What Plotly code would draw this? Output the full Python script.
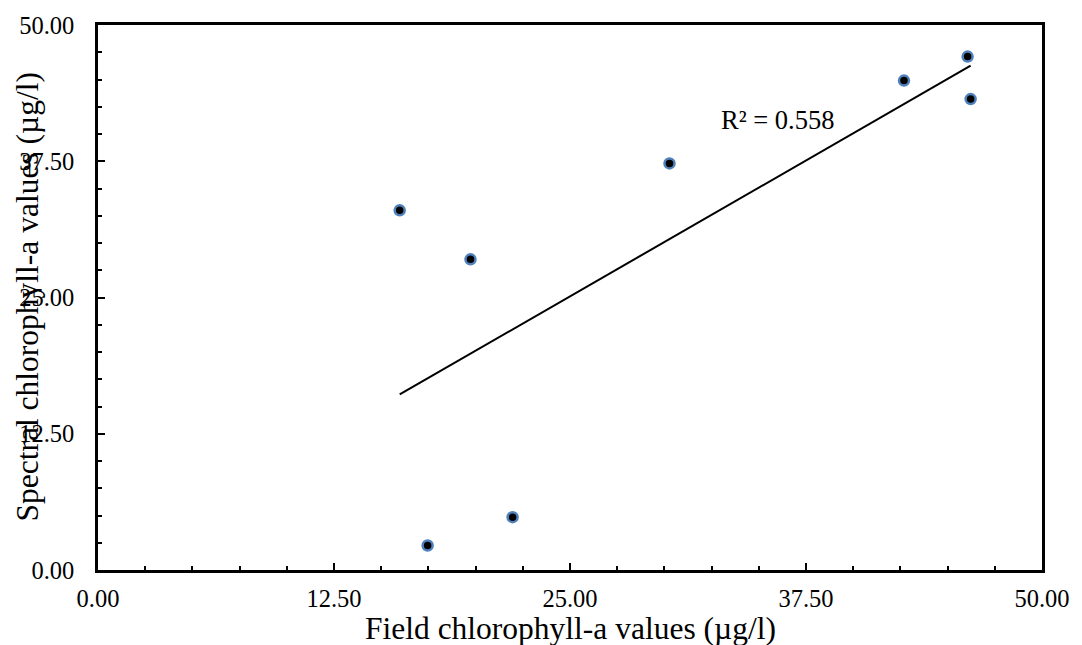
import numpy as np
import plotly.graph_objects as go

field_chl = [15.98, 17.46, 19.73, 21.96, 30.27, 42.69, 46.06, 46.22]
spectral_chl = [33.0, 2.25, 28.5, 4.85, 37.3, 44.9, 47.1, 43.2]
tick_vals = [0, 12.5, 25, 37.5, 50]
tick_text = ["0.00", "12.50", "25.00", "37.50", "50.00"]
r2_label = "R² = 0.558"
x_title = "Field chlorophyll-a values (µg/l)"
y_title = "Spectral chlorophyll-a values (µg/l)"

x = np.array(field_chl)
y = np.array(spectral_chl)
slope, intercept = np.polyfit(x, y, 1)
x_fit = np.array([x.min(), x.max()])
y_fit = slope * x_fit + intercept

FONT = "Liberation Serif, Times New Roman, serif"

fig = go.Figure()
fig.add_trace(go.Scatter(x=x_fit, y=y_fit, mode="lines",
                         line=dict(color="black", width=2), showlegend=False,
                         hoverinfo="skip"))
fig.add_trace(go.Scatter(x=field_chl, y=spectral_chl, mode="markers",
                         marker=dict(color="black", size=10,
                                     line=dict(color="#4f81bd", width=2.5)),
                         showlegend=False))

axis_common = dict(range=[0, 50], tickvals=tick_vals, ticktext=tick_text,
                   showgrid=False, zeroline=False, showline=True,
                   linecolor="black", linewidth=2.5, mirror=True,
                   ticks="inside", ticklen=7, tickwidth=2, tickcolor="black",
                   minor=dict(dtick=2.5, ticks="inside", ticklen=4, tickwidth=2,
                              tickcolor="black", showgrid=False),
                   tickfont=dict(family=FONT, size=24.5, color="black"))

fig.update_xaxes(**axis_common, ticklabelstandoff=5)
fig.update_yaxes(**axis_common, ticklabelstandoff=16)

fig.add_annotation(text=r2_label, x=36.0, y=41.3, xref="x", yref="y",
                   showarrow=False, font=dict(family=FONT, size=26.5, color="black"))
fig.add_annotation(text=x_title, x=0.5, y=0, xref="paper", yref="paper",
                   yshift=-58, showarrow=False, yanchor="middle",
                   font=dict(family=FONT, size=31.5, color="black"))
fig.add_annotation(text=y_title, x=0, y=0.5, xref="paper", yref="paper",
                   xshift=-71, textangle=-90, showarrow=False, xanchor="center",
                   font=dict(family=FONT, size=31.5, color="black"))

fig.update_layout(width=1082, height=645, margin=dict(l=98, r=36, t=20, b=75),
                  plot_bgcolor="white", paper_bgcolor="white")

fig.write_html("out.html")
